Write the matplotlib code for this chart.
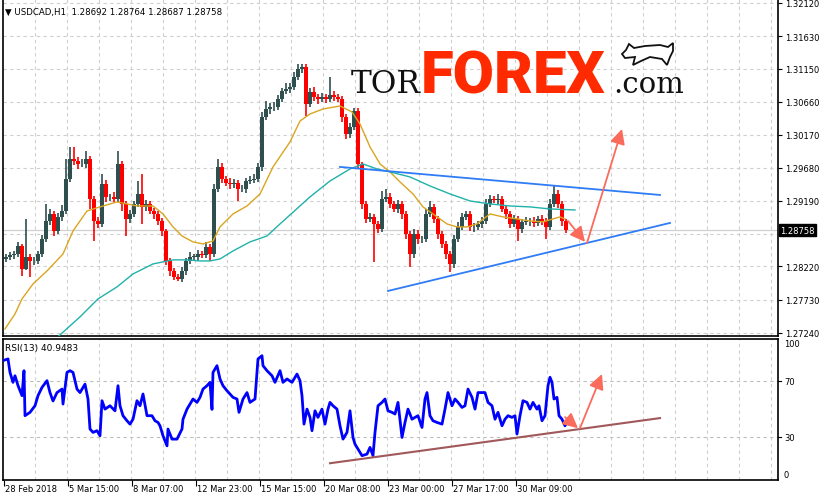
import matplotlib
matplotlib.use('Agg')
import matplotlib.pyplot as plt
import matplotlib.transforms as mtransforms
from matplotlib.patches import Polygon

# ---- price data, sampled every 4 hourly bars off the chart ----
bar_step = 4
first_open = 1.28330
close = [
    1.28361, 1.28390, 1.28405, 1.28523, 1.28183, 1.28361, 1.28301, 1.28301, 1.28405, 1.28627,
    1.28893, 1.28997, 1.28745, 1.28953, 1.29041, 1.29515, 1.29811, 1.29781, 1.29737, 1.29737,
    1.29811, 1.29219, 1.28893, 1.28849, 1.29441, 1.29249, 1.29249, 1.29219, 1.29737, 1.29145,
    1.28923, 1.28997, 1.29145, 1.29293, 1.29101, 1.29145, 1.29041, 1.28997, 1.28893, 1.28745,
    1.28301, 1.28153, 1.28065, 1.28035, 1.28153, 1.28301, 1.28361, 1.28361, 1.28405, 1.28390,
    1.28509, 1.28405, 1.29367, 1.29693, 1.29515, 1.29456, 1.29441, 1.29456, 1.29367, 1.29367,
    1.29485, 1.29500, 1.29515, 1.29693, 1.30433, 1.30551, 1.30581, 1.30581, 1.30699, 1.30817,
    1.30847, 1.30877, 1.31025, 1.31143, 1.31173, 1.30625, 1.30803, 1.30729, 1.30699, 1.30729,
    1.30699, 1.30758, 1.30729, 1.30699, 1.30433, 1.30181, 1.30285, 1.30521, 1.29737, 1.29145,
    1.28923, 1.28953, 1.28849, 1.28775, 1.29219, 1.29249, 1.29145, 1.29071, 1.29145, 1.28997,
    1.28701, 1.28405, 1.28701, 1.28627, 1.28627, 1.28997, 1.29101, 1.28923, 1.28701, 1.28553,
    1.28405, 1.28257, 1.28627, 1.28805, 1.28953, 1.28997, 1.28805, 1.28805, 1.28849, 1.28893,
    1.29145, 1.29219, 1.29204, 1.29219, 1.29071, 1.28997, 1.28849, 1.28923, 1.28775, 1.28879,
    1.28893, 1.28893, 1.28864, 1.28923, 1.28893, 1.28805, 1.29145, 1.29293, 1.29145, 1.28893,
    1.28758,
]
# wick lengths beyond the body, in pips
wick_up = [
    4, 5, 4, 6, 3, 56, 4, 6, 5, 6,
    25, 8, 5, 6, 9, 30, 18, 18, 6, 7,
    12, 5, 4, 6, 15, 6, 5, 7, 19, 5,
    4, 6, 5, 19, 30, 6, 5, 4, 5, 4,
    3, 5, 4, 5, 6, 5, 7, 5, 6, 4,
    7, 5, 8, 12, 6, 5, 7, 6, 5, 6,
    5, 6, 7, 6, 8, 12, 6, 7, 6, 5,
    9, 6, 7, 7, 5, 4, 6, 7, 5, 6,
    5, 27, 6, 5, 4, 5, 6, 5, 4, 3,
    5, 6, 5, 4, 12, 12, 6, 5, 6, 5,
    4, 5, 7, 6, 5, 8, 9, 5, 4, 5,
    4, 5, 6, 7, 6, 4, 5, 6, 5, 6,
    7, 6, 5, 7, 5, 4, 5, 6, 4, 5,
    6, 5, 6, 5, 6, 4, 8, 12, 6, 4,
    3,
]
wick_dn = [
    5, 4, 6, 5, 10, 2, 24, 6, 5, 4,
    5, 6, 7, 5, 6, 4, 5, 6, 7, 5,
    6, 15, 30, 6, 5, 7, 6, 5, 4, 10,
    25, 6, 5, 4, 25, 6, 5, 7, 6, 8,
    6, 7, 5, 3, 5, 6, 4, 5, 6, 5,
    4, 10, 5, 4, 6, 5, 7, 6, 18, 5,
    6, 5, 4, 5, 6, 5, 7, 6, 5, 4,
    5, 6, 4, 5, 6, 18, 5, 6, 7, 5,
    6, 5, 6, 5, 7, 8, 6, 5, 6, 7,
    6, 5, 56, 6, 5, 4, 6, 5, 6, 7,
    8, 19, 6, 7, 6, 5, 4, 6, 7, 6,
    8, 12, 6, 5, 4, 5, 6, 7, 5, 6,
    5, 4, 5, 6, 5, 7, 6, 5, 18, 6,
    5, 7, 6, 5, 6, 18, 5, 4, 6, 7,
    5,
]
last_price = 1.28758
header = "\u25BC USDCAD,H1  1.28692 1.28764 1.28687 1.28758"

# moving averages (bar index, price)
ma_fast_bars = [1, 11, 18, 29, 43, 59, 69, 83, 96, 113, 123, 133, 149, 159, 169, 178, 189, 199, 209, 216,
                229, 243, 256, 269, 286, 296, 306, 319, 336, 348, 356, 366, 376, 386, 396, 409, 419, 429, 443, 453,
                463, 473, 486, 499, 513, 526, 539, 549, 556, 561]
ma_fast_vals = [1.27295, 1.27517, 1.27739, 1.27961, 1.28153, 1.28405, 1.28745, 1.29041, 1.29101, 1.29175,
                1.29145, 1.29115, 1.29115, 1.28997, 1.28805, 1.28671, 1.28583, 1.28553, 1.28597, 1.28805,
                1.28997, 1.29115, 1.29293, 1.29693, 1.30063, 1.30373, 1.30477, 1.30551, 1.30595, 1.30507,
                1.30329, 1.29989, 1.29737, 1.29619, 1.29471, 1.29293, 1.29101, 1.28997, 1.28849, 1.28805,
                1.28805, 1.28849, 1.28997, 1.28953, 1.28923, 1.28893, 1.28879, 1.28923, 1.28953, 1.28923]
ma_slow_bars = [54, 76, 94, 113, 129, 149, 169, 183, 196, 206, 216, 229, 246, 263, 276, 286, 306, 326, 346, 359,
                373, 386, 406, 426, 446, 466, 486, 506, 526, 546, 571]
ma_slow_vals = [1.27180, 1.27473, 1.27739, 1.27917, 1.28109, 1.28257, 1.28317, 1.28317, 1.28301, 1.28301,
                1.28331, 1.28449, 1.28583, 1.28671, 1.28849, 1.28982, 1.29249, 1.29485, 1.29663, 1.29737,
                1.29663, 1.29619, 1.29545, 1.29411, 1.29293, 1.29189, 1.29145, 1.29115, 1.29101, 1.29071,
                1.29056]

# RSI(13)
rsi_label = "RSI(13) 40.9483"
rsi_bars = [-1, 4, 6, 9, 11, 14, 18, 20, 21, 26, 31, 34, 38, 43, 46, 49, 53, 58, 59, 63,
            66, 69, 73, 76, 81, 84, 86, 89, 93, 96, 98, 101, 106, 111, 114, 116, 119, 123, 126, 129,
            133, 136, 139, 143, 148, 151, 154, 156, 159, 163, 164, 168, 173, 178, 179, 183, 186, 189, 193, 196,
            199, 203, 206, 208, 209, 213, 216, 219, 223, 226, 229, 233, 235, 239, 243, 246, 251, 254, 258, 259,
            263, 268, 271, 276, 279, 283, 288, 293, 296, 298, 300, 303, 306, 308, 311, 314, 318, 321, 324, 326,
            329, 333, 336, 339, 343, 346, 349, 351, 354, 358, 363, 366, 369, 371, 374, 378, 381, 384, 388, 391,
            394, 398, 401, 404, 408, 411, 414, 418, 421, 423, 426, 429, 433, 438, 441, 444, 448, 451, 454, 458,
            461, 464, 468, 471, 474, 478, 481, 484, 488, 491, 494, 498, 501, 504, 508, 511, 513, 516, 519, 523,
            526, 529, 533, 535, 538, 541, 544, 546, 548, 550, 553, 555, 558, 561, 563]
rsi_vals = [84.8, 86, 76.4, 69.3, 74, 67, 59.8, 77.6, 45.5, 47.9, 52.6, 59.8, 65.7, 70.5, 62, 56, 62, 64.5, 53.8, 76.4,
            77.6, 76.4, 64.5, 62, 68, 57.4, 36, 33.6, 34.8, 31.2, 56.2, 50.2, 52.6, 49, 66.9, 52.6, 45.5, 41.9, 39.5, 43,
            56.2, 52.6, 61, 45.5, 45.5, 41.9, 40.7, 38.3, 31.2, 24, 36, 28.8, 28.8, 36, 43, 50.2, 53.8, 57.4, 55, 58.6,
            64.5, 66.9, 69.3, 50, 76.4, 81.2, 71.7, 66.9, 63.3, 61, 58.6, 57.4, 47.9, 57.4, 62, 55, 57.4, 86, 88.3, 81.2,
            77.6, 74, 69.3, 77.6, 69.3, 71.7, 69.3, 75.2, 70.5, 59.8, 39.5, 50.2, 44.3, 34.8, 49, 44.3, 50.2, 39.5, 50.2, 55,
            52.6, 50.2, 38.3, 28.8, 33.6, 49, 30, 25.2, 21.7, 17, 18.1, 22.9, 17, 33.6, 52.6, 55, 57.4, 49, 47.9, 46.7,
            55, 30, 40.7, 50.2, 43, 44.3, 45.5, 37.1, 57.4, 62, 45.5, 41.9, 40.7, 39.5, 50.2, 62, 52.6, 57.4, 55, 51.4,
            52.6, 64.5, 58.6, 50.2, 62, 62, 62, 55, 52.6, 43, 47.9, 38.3, 43, 45.5, 44.3, 45.5, 32.4, 45.5, 56.2, 55,
            50.2, 55, 50.2, 52.6, 41.9, 45.5, 66.9, 72.9, 69.3, 57.4, 58.6, 45.5, 43, 38.3, 40.9]
rsi_levels = [30, 70]

# axis labels
price_ticks = [1.27240, 1.27730, 1.28220, 1.28705, 1.29190, 1.29680, 1.30170, 1.30660, 1.31150, 1.31630, 1.32120]
hidden_tick = 1.28705
date_labels = ["28 Feb 2018", "5 Mar 15:00", "8 Mar 07:00", "12 Mar 23:00", "15 Mar 15:00",
               "20 Mar 08:00", "23 Mar 00:00", "27 Mar 17:00", "30 Mar 09:00"]
bars_per_label = 64

# drawn objects (bar, value)
trend_upper = [(336, 1.29693), (656, 1.29278)]
trend_lower = [(384, 1.27857), (666, 1.28864)]
arrow_down = [(564, 1.28893), (581, 1.28583)]
arrow_up = [(583, 1.28568), (618, 1.30255)]
rsi_trend = [(326, 11.6), (656, 43.8)]
rsi_arrow_down = [(561, 44.5), (574, 36.6)]
rsi_arrow_up = [(576, 36.6), (598, 75.2)]

BULL = '#2F4F4F'
BEAR = '#FF0000'
ARROW = '#FA6B5C'
GRID = '#cfcfcf'

W, H = 820, 502
fig = plt.figure(figsize=(W / 100, H / 100), dpi=100)
fig.patch.set_facecolor('white')


def box(x0, y0, x1, y1):
    return [x0 / W, 1 - y1 / H, (x1 - x0) / W, (y1 - y0) / H]


ax = fig.add_axes(box(3, 0, 778, 337))
rx = fig.add_axes(box(3, 340.3, 778, 480.5))
for a in (ax, rx):
    a.set_xlim(-1, 774)
    for s in a.spines.values():
        s.set_color('black')
        s.set_linewidth(1.2)
ax.spines['top'].set_visible(False)
ax.set_ylim(1.27190, 1.32179)
rx.set_ylim(0, 100)

# grid
grid_bars = range(32, 774, 32)
for a in (ax, rx):
    for g in grid_bars:
        a.axvline(g - 1, color=GRID, lw=0.8, ls=(0, (3, 3)), zorder=0)
for p in price_ticks:
    ax.axhline(p, color=GRID, lw=0.8, ls=(0, (3, 3)), zorder=0)
for lv in rsi_levels:
    rx.axhline(lv, color='#bdbdbd', lw=0.8, ls=(0, (3, 3)), zorder=0)

# current price line
ax.axhline(last_price, color='#d0d0d0', lw=0.9, zorder=1)

# candles
opens = [first_open] + close[:-1]
for j, (o, c) in enumerate(zip(opens, close)):
    x = j * bar_step + 2
    col = BULL if c >= o else BEAR
    top, bot = max(o, c), min(o, c)
    ax.vlines(x, bot - wick_dn[j] * 1e-4, top + wick_up[j] * 1e-4, color=col, lw=1.2, zorder=3)
    ax.bar(x, max(top - bot, 6e-5), width=3.6, bottom=bot, color=col, lw=0, zorder=3)

ax.plot(ma_fast_bars, ma_fast_vals, color='#DAA520', lw=1.0, zorder=4)
ax.plot(ma_slow_bars, ma_slow_vals, color='#20B2AA', lw=1.0, zorder=4)

# trend lines and arrows
for seg in (trend_upper, trend_lower):
    ax.plot([seg[0][0], seg[1][0]], [seg[0][1], seg[1][1]], color='#2F7CF6', lw=1.3, zorder=5)
rx.plot([rsi_trend[0][0], rsi_trend[1][0]], [rsi_trend[0][1], rsi_trend[1][1]],
        color='#A0585A', lw=1.5, zorder=5)
for a, seg in ((ax, arrow_down), (ax, arrow_up), (rx, rsi_arrow_down), (rx, rsi_arrow_up)):
    a.annotate('', xy=seg[1], xytext=seg[0],
               arrowprops=dict(arrowstyle='-|>,head_length=0.9,head_width=0.45', color=ARROW,
                               lw=1.3, shrinkA=0, shrinkB=0, mutation_scale=10), zorder=6)

rx.plot(rsi_bars, rsi_vals, color='#0000FF', lw=2.0, zorder=4)

# price axis
ax.yaxis.tick_right()
ax.set_yticks(price_ticks)
ax.set_yticklabels(['' if p == hidden_tick else '%.5f' % p for p in price_ticks])
ax.tick_params(axis='y', direction='out', length=3, width=0.8, labelsize=6, pad=2)
ax.tick_params(axis='x', length=0, labelbottom=False)
trans = mtransforms.blended_transform_factory(ax.transAxes, ax.transData)
ax.text(1.0 + 2 / 775, last_price, '%.5f' % last_price, transform=trans, color='white',
        fontsize=6, va='center', ha='left', zorder=10,
        bbox=dict(boxstyle='square,pad=0.18', fc='black', ec='black'))

# rsi axis
rx.set_yticks([])
rtrans = mtransforms.blended_transform_factory(rx.transAxes, rx.transData)
for lv, va in ((100, 'top'), (70, 'center'), (30, 'center'), (0, 'bottom')):
    rx.text(1.0 + 6 / 775, lv, str(lv), transform=rtrans, fontsize=6, va=va, ha='left')
    if va == 'center':
        rx.plot([1.0, 1.0 + 3 / 775], [lv, lv], transform=rtrans, color='black', lw=0.8, clip_on=False)

# time axis
date_bars = [k * bars_per_label for k in range(len(date_labels))]
rx.set_xticks(date_bars)
rx.tick_params(axis='x', direction='out', length=4, width=0.8, labelbottom=False)
for b, lab in zip(date_bars, date_labels):
    fig.text((4 + b + 1) / W, 1 - 490 / H, lab, fontsize=6, ha='left', va='center')

# header texts
fig.text(5 / W, 1 - 12 / H, header, fontsize=6.2, ha='left', va='center')
fig.text(5 / W, 1 - 348 / H, rsi_label, fontsize=6.5, ha='left', va='center')

# logo
fig.text(421 / W, 1 - 93 / H, 'TOR', ha='right', va='baseline', family='DejaVu Serif',
         fontsize=22.5, color='#111111', zorder=10)
fig.text(421 / W, 1 - 93 / H, 'FOREX', ha='left', va='baseline', family='Roboto',
         fontweight='black', fontsize=43, color='#FF2A00', zorder=10)
fig.text(613 / W, 1 - 93 / H, '.com', ha='left', va='baseline', family='DejaVu Serif',
         fontsize=21, color='#111111', zorder=10)
bull = [(626, 51), (629, 45), (634, 49), (645, 47), (660, 46), (668, 48), (673, 44), (673, 52),
        (670, 58), (667, 66), (662, 60), (650, 58), (641, 62), (633, 66), (635, 58), (625, 59), (622, 55)]
fig.patches.append(Polygon([(x / W, 1 - y / H) for x, y in bull], closed=True, fc='white', ec='#111111',
                           lw=1.3, transform=fig.transFigure, figure=fig))

fig.savefig('out.png', dpi=100)
